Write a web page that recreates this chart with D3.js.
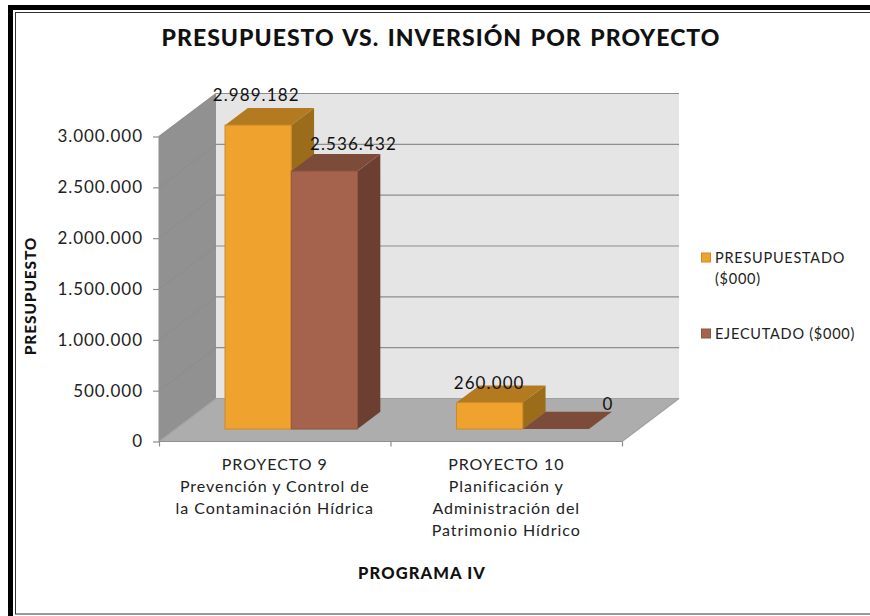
<!DOCTYPE html>
<html>
<head>
<meta charset="utf-8">
<script src="https://cdn.jsdelivr.net/npm/d3@7"></script>
<style>
  html, body { margin: 0; padding: 0; background: #fff; }
  svg { display: block; }
  text { font-family: Lato, "Open Sans", sans-serif; fill: #111; }
  .tick text { font-size: 17px; letter-spacing: 0.95px; fill: #222; }
  .catLabel { font-size: 16px; letter-spacing: 0.95px; fill: #222; }
  .legendText { font-size: 14.5px; letter-spacing: 0.75px; fill: #222; }
  .barLabel { font-size: 17px; letter-spacing: 1.1px; }
  .title { font-size: 23px; font-weight: 900; letter-spacing: 1.03px; word-spacing: 2px; }
  .axisTitle { font-size: 15.5px; font-weight: 900; letter-spacing: 0.85px; }
  .axisTitle.wide { font-size: 16.5px; letter-spacing: 1.1px; }
</style>
</head>
<body>
<div id="chart"></div>
<script>
// data
var categories = ["PROYECTO 9", "PROYECTO 10"];
var categoryLines = [
  ["PROYECTO 9", "Prevención y Control de", "la Contaminación Hídrica"],
  ["PROYECTO 10", "Planificación y", "Administración del", "Patrimonio Hídrico"]
];
var seriesNames = ["PRESUPUESTADO ($000)", "EJECUTADO ($000)"];
var presupuestado = [2989182, 260000];
var ejecutado = [2536432, 0];
var yTicks = [0, 500000, 1000000, 1500000, 2000000, 2500000, 3000000];

var width = 870, height = 616;

var svg = d3.select("#chart").append("svg")
  .attr("width", width)
  .attr("height", height);

// outer frame, runs off the right side of the picture
var frame = svg.append("g");
frame.append("rect").attr("x", 10.5).attr("y", 7.5).attr("width", 900).attr("height", 640)
  .attr("fill", "none").attr("stroke", "#000").attr("stroke-width", 5);
frame.append("rect").attr("x", 15.5).attr("y", 12.5).attr("width", 900).attr("height", 601.5)
  .attr("fill", "#fff").attr("stroke", "#333").attr("stroke-width", 1);

// the plot box and the 3d depth of it
var plot = {left: 159, right: 622, bottom: 441.5, top: 136.5};
var depthX = 57, depthY = 43;
// bars sit between these two fractions of the depth
var barFront = 0.29, barBack = 0.69;

var y = d3.scaleLinear().domain([0, 3000000]).range([plot.bottom, plot.top]);
var xEdge = d3.scaleLinear().domain([0, categories.length]).range([plot.left, plot.right]);
var x0 = d3.scaleBand().domain(categories).range([plot.left, plot.right]).paddingInner(0).paddingOuter(0);
var x1 = d3.scaleBand().domain(seriesNames).range([49.5, 182]);

var numFormat = d3.formatLocale({decimal: ",", thousands: ".", grouping: [3], currency: ["$", ""]}).format(",d");

function pts(list) {
  return list.map(function(p) { return p[0] + "," + p[1]; }).join(" ");
}

// left wall, back wall, floor
svg.append("polygon")
  .attr("points", pts([[plot.left, y(0)], [plot.left, y(3000000)], [plot.left + depthX, y(3000000) - depthY], [plot.left + depthX, y(0) - depthY]]))
  .attr("fill", "#919191");
svg.append("polygon")
  .attr("points", pts([[plot.left + depthX, y(3000000) - depthY], [plot.right + depthX, y(3000000) - depthY], [plot.right + depthX, y(0) - depthY], [plot.left + depthX, y(0) - depthY]]))
  .attr("fill", "#e5e5e5");
svg.append("polygon")
  .attr("points", pts([[plot.left, y(0)], [plot.left + depthX, y(0) - depthY], [plot.right + depthX, y(0) - depthY], [plot.right, y(0)]]))
  .attr("fill", "#adadad");

// gridlines, diagonal part on the wall then along the back
yTicks.forEach(function(t) {
  svg.append("polyline")
    .attr("points", pts([[plot.left, y(t)], [plot.left + depthX, y(t) - depthY], [plot.right + depthX, y(t) - depthY]]))
    .attr("fill", "none")
    .attr("stroke", t == 0 ? "#a0a0a0" : "#8e8e8e")
    .attr("stroke-width", 1.2);
});
svg.append("line")
  .attr("x1", plot.right).attr("y1", y(0)).attr("x2", plot.right + depthX).attr("y2", y(0) - depthY)
  .attr("stroke", "#a0a0a0").attr("stroke-width", 1.2);

// axes
var yAxis = svg.append("g")
  .attr("transform", "translate(" + plot.left + ",0)")
  .call(d3.axisLeft(y).tickValues(yTicks).tickFormat(numFormat).tickSize(6).tickPadding(10));
var xAxis = svg.append("g")
  .attr("transform", "translate(0," + plot.bottom + ")")
  .call(d3.axisBottom(xEdge).tickValues([0, 1, 2]).tickFormat("").tickSize(5));
[yAxis, xAxis].forEach(function(a) {
  a.selectAll("path, line").attr("stroke", "#8e8e8e").attr("stroke-width", 1.2);
});
yAxis.select("path").remove();
xAxis.select("path").attr("d", "M" + plot.left + ",0H" + plot.right);
yAxis.append("line").attr("x1", 0).attr("x2", 0).attr("y1", y(0)).attr("y2", y(3000000)).attr("stroke", "#8e8e8e");

// colours: front, top, side
var colors = [
  {front: "#f0a22e", top: "#b37a20", side: "#9b6d1b", line: "#cf8a26"},
  {front: "#a5634e", top: "#7d4b3a", side: "#6c3f32", line: "#8f5542"}
];
var values = [presupuestado, ejecutado];

var fx = depthX * barFront, fy = depthY * barFront;
var bx = depthX * (barBack - barFront), by = depthY * (barBack - barFront);

categories.forEach(function(cat, c) {
  seriesNames.forEach(function(name, s) {
    var v = values[s][c];
    var left = x0(cat) + x1(name) + fx;
    var right = left + x1.bandwidth();
    var base = y(0) - fy;
    var top = y(v) - fy;
    var col = colors[s];
    var g = svg.append("g").attr("class", "bar");
    g.append("polygon")
      .attr("points", pts([[right, base], [right, top], [right + bx, top - by], [right + bx, base - by]]))
      .attr("fill", col.side);
    g.append("polygon")
      .attr("points", pts([[left, top], [left + bx, top - by], [right + bx, top - by], [right, top]]))
      .attr("fill", col.top);
    if (v > 0) {
      g.append("rect")
        .attr("x", left).attr("y", top)
        .attr("width", right - left).attr("height", base - top)
        .attr("fill", col.front).attr("stroke", col.line).attr("stroke-width", 1);
    }
  });
});

// data labels were dragged by hand in the original so each has its own offset
var labelOffsets = [
  [[-2, -24], [29, -21]],
  [[-0.5, -14], [52, -19]]
];
categories.forEach(function(cat, c) {
  seriesNames.forEach(function(name, s) {
    var v = values[s][c];
    svg.append("text")
      .attr("class", "barLabel")
      .attr("x", x0(cat) + x1(name) + x1.bandwidth() / 2 + fx + labelOffsets[c][s][0])
      .attr("y", y(v) - fy + labelOffsets[c][s][1])
      .attr("text-anchor", "middle")
      .text(numFormat(v));
  });
});

// category labels
categories.forEach(function(cat, c) {
  categoryLines[c].forEach(function(line, i) {
    svg.append("text")
      .attr("class", "catLabel")
      .attr("x", x0(cat) + x0.bandwidth() / 2)
      .attr("y", 470 + i * 22)
      .attr("text-anchor", "middle")
      .text(line);
  });
});

// titles
svg.append("text").attr("class", "title")
  .attr("x", 441).attr("y", 46).attr("text-anchor", "middle")
  .text("PRESUPUESTO VS. INVERSIÓN POR PROYECTO");
svg.append("text").attr("class", "axisTitle")
  .attr("transform", "translate(36,296) rotate(-90)").attr("text-anchor", "middle")
  .text("PRESUPUESTO");
svg.append("text").attr("class", "axisTitle wide")
  .attr("x", 422).attr("y", 579).attr("text-anchor", "middle")
  .text("PROGRAMA IV");

// legend
var legendY = [258, 334];
var legendLines = [["PRESUPUESTADO", "($000)"], ["EJECUTADO ($000)"]];
seriesNames.forEach(function(name, s) {
  svg.append("rect")
    .attr("x", 701.5).attr("y", legendY[s] - 5).attr("width", 9).attr("height", 9)
    .attr("fill", colors[s].front).attr("stroke", colors[s].line);
  legendLines[s].forEach(function(line, i) {
    svg.append("text")
      .attr("class", "legendText")
      .attr("x", 715).attr("y", legendY[s] + 5 + i * 21)
      .text(line);
  });
});
</script>
</body>
</html>
